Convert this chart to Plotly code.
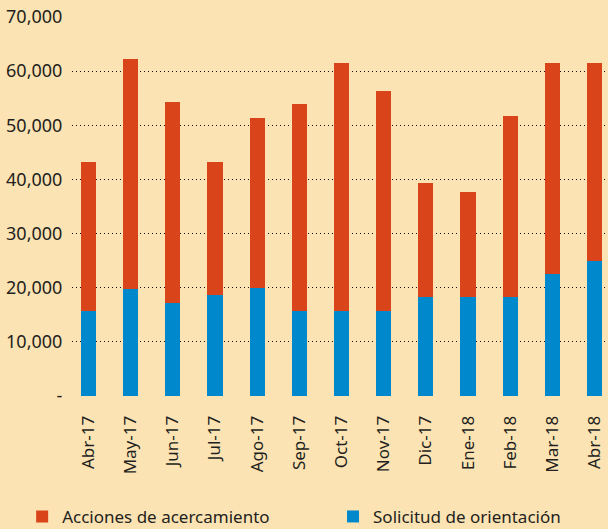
import plotly.graph_objects as go

categories = ["Abr-17", "May-17", "Jun-17", "Jul-17", "Ago-17", "Sep-17", "Oct-17",
              "Nov-17", "Dic-17", "Ene-18", "Feb-18", "Mar-18", "Abr-18"]
solicitud = [15700, 19800, 17200, 18600, 20000, 15700, 15700, 15700, 18300, 18300, 18300, 22600, 24900]
totales = [43200, 62200, 54300, 43200, 51300, 53900, 61500, 56300, 39300, 37700, 51700, 61500, 61500]
acciones = [t - s for t, s in zip(totales, solicitud)]

y_tickvals = [0, 10000, 20000, 30000, 40000, 50000, 60000, 70000]
y_ticktext = ["-", "10,000", "20,000", "30,000", "40,000", "50,000", "60,000", "70,000"]

BG = "#FCE3B3"
RED = "#D9441A"
BLUE = "#0088CC"
TXT = "#231F20"
FONT = "Noto Sans"

xs = list(range(len(categories)))
fig = go.Figure()
fig.add_trace(go.Bar(x=xs, y=solicitud, name="Solicitud de orientación",
                     marker=dict(color=BLUE, line=dict(width=0)), width=0.36, legend="legend2"))
fig.add_trace(go.Bar(x=xs, y=acciones, name="Acciones de acercamiento",
                     marker=dict(color=RED, line=dict(width=0)), width=0.36, legend="legend"))

leg_common = dict(orientation="h", y=-0.319, xanchor="left", yanchor="middle",
                  font=dict(size=17, color=TXT), bgcolor="rgba(0,0,0,0)")

fig.update_layout(
    barmode="stack",
    width=608, height=529,
    paper_bgcolor=BG, plot_bgcolor=BG,
    margin=dict(l=72, r=0, t=17, b=133, autoexpand=False),
    font=dict(family=FONT, color=TXT, size=17),
    showlegend=True,
    legend=dict(x=-0.093, **leg_common),
    legend2=dict(x=0.487, **leg_common),
    xaxis=dict(range=[-0.39, 12.32], tickvals=xs, ticktext=categories, automargin=False,
               tickangle=-90, showgrid=False, zeroline=False, showline=False,
               ticks="outside", ticklen=12, tickcolor=BG, tickfont=dict(size=17, color=TXT)),
    yaxis=dict(range=[0, 70000], tickvals=y_tickvals, ticktext=y_ticktext, automargin=False,
               showgrid=True, gridcolor="#111111", gridwidth=1, griddash="1px,3px",
               zeroline=False, showline=False, ticks="outside", ticklen=5, tickcolor=BG,
               tickfont=dict(size=18, color=TXT)),
)

fig.write_html("out.html", config={"displayModeBar": False},
               post_script="document.body.style.margin='0';document.body.style.background='" + BG + "';")
